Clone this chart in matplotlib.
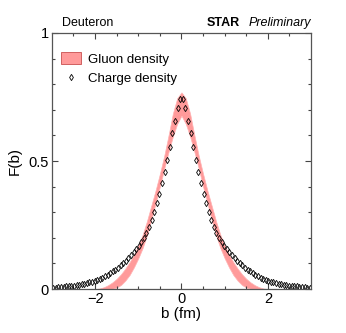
import numpy as np
import matplotlib.pyplot as plt
from matplotlib.patches import Patch
from matplotlib.lines import Line2D

plt.rcParams['font.family'] = ['Liberation Sans', 'DejaVu Sans']

# gluon density band (symmetric in b), read at |b|
gluon_b = [0.0, 0.1, 0.2, 0.3, 0.4, 0.5, 0.6, 0.7, 0.8, 0.9, 1.0,
           1.1, 1.2, 1.3, 1.4, 1.5, 1.6, 1.7, 1.8, 1.9, 2.0]
gluon_hi = [0.768, 0.745, 0.685, 0.60, 0.52, 0.45, 0.385, 0.325, 0.265, 0.212, 0.17,
            0.135, 0.105, 0.08, 0.058, 0.04, 0.026, 0.015, 0.007, 0.002, 0.0]
gluon_lo = [0.677, 0.645, 0.595, 0.535, 0.47, 0.40, 0.335, 0.27, 0.21, 0.16, 0.12,
            0.085, 0.055, 0.033, 0.016, 0.006, 0.001, 0.0, 0.0, 0.0, 0.0]

# charge density points, read at |b| = 0.03, 0.09, ... 2.97
charge_b = [0.03, 0.09, 0.15, 0.21, 0.27, 0.33, 0.39, 0.45, 0.51, 0.57,
            0.63, 0.69, 0.75, 0.81, 0.87, 0.93, 0.99, 1.05, 1.11, 1.17,
            1.23, 1.29, 1.35, 1.41, 1.47, 1.53, 1.59, 1.65, 1.71, 1.77,
            1.83, 1.89, 1.95, 2.01, 2.07, 2.13, 2.19, 2.25, 2.31, 2.37,
            2.43, 2.49, 2.55, 2.61, 2.67, 2.73, 2.79, 2.85, 2.91, 2.97]
charge_f = [0.742, 0.707, 0.657, 0.61, 0.555, 0.504, 0.458, 0.415, 0.371, 0.335,
            0.30, 0.27, 0.243, 0.22, 0.20, 0.183, 0.168, 0.155, 0.143, 0.132,
            0.121, 0.11, 0.10, 0.092, 0.084, 0.076, 0.069, 0.062, 0.056, 0.050,
            0.045, 0.040, 0.036, 0.032, 0.029, 0.026, 0.023, 0.021, 0.019, 0.017,
            0.015, 0.013, 0.012, 0.011, 0.010, 0.009, 0.008, 0.007, 0.006, 0.006]

gb = np.concatenate([-np.array(gluon_b)[::-1], np.array(gluon_b)[1:]])
ghi = np.concatenate([np.array(gluon_hi)[::-1], np.array(gluon_hi)[1:]])
glo = np.concatenate([np.array(gluon_lo)[::-1], np.array(gluon_lo)[1:]])
cb = np.concatenate([-np.array(charge_b)[::-1], np.array(charge_b)])
cf = np.concatenate([np.array(charge_f)[::-1], np.array(charge_f)])

fig = plt.figure(figsize=(3.46, 3.33), dpi=100)
ax = fig.add_axes([0.150, 0.132, 0.749, 0.769])

pink = '#ff9a9a'
ax.fill_between(gb, glo, ghi, color=pink, linewidth=0.5, edgecolor='#ffb4b4')
ax.plot(cb, cf, linestyle='none', marker='d', markersize=3.2, markerfacecolor='none',
        markeredgecolor='black', markeredgewidth=0.6)

ax.set_xlim(-3, 3)
ax.set_ylim(0, 1)
ax.set_xticks([-2, 0, 2])
ax.set_xticklabels(['\u22122', '0', '2'])
ax.set_xticks(np.arange(-2.5, 3.0, 0.5), minor=True)
ax.set_yticks([0, 0.5, 1])
ax.set_yticklabels(['0', '0.5', '1'])
ax.set_yticks(np.arange(0, 1.01, 0.1), minor=True)
ax.tick_params(which='both', direction='in', top=True, right=True,
               color='#444444', width=0.8, labelsize=10.5)
ax.tick_params(which='major', length=4.5, pad=2)
ax.tick_params(which='minor', length=2.3)
for s in ax.spines.values():
    s.set_color('#555555')
    s.set_linewidth(0.9)

ax.set_xlabel('b (fm)', fontsize=11, labelpad=1)
ax.set_ylabel('F(b)', fontsize=11, labelpad=5)

fig.text(0.179, 0.913, 'Deuteron', fontsize=9, ha='left', va='bottom')
fig.text(0.597, 0.913, 'STAR', fontsize=9, fontweight='bold', ha='left', va='bottom')
fig.text(0.719, 0.913, 'Preliminary', fontsize=9, style='italic', ha='left', va='bottom')

handles = [Patch(facecolor=pink, edgecolor='#d06060', linewidth=0.7),
           Line2D([], [], linestyle='none', marker='d', markersize=3.2, markerfacecolor='none',
                  markeredgecolor='black', markeredgewidth=0.6)]
ax.legend(handles, ['Gluon density', 'Charge density'], loc='upper left', frameon=False,
          fontsize=9.5, handlelength=1.5, handleheight=1.0, handletextpad=0.5,
          borderaxespad=0.3, labelspacing=0.45, bbox_to_anchor=(0.0, 0.96))

fig.savefig('out.png', dpi=100)
